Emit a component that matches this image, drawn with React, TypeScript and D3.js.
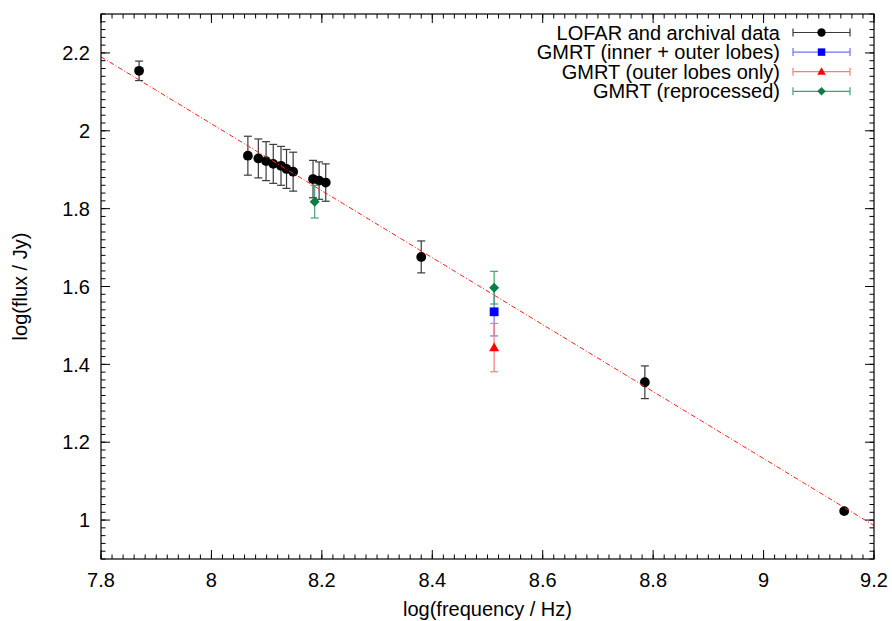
import React from "react";
import * as d3 from "d3";

const lofarX = [7.869, 8.066, 8.085, 8.099, 8.112, 8.126, 8.136, 8.148, 8.184, 8.195, 8.207, 8.38, 8.785, 9.146];
const lofarY = [2.154, 1.936, 1.929, 1.922, 1.915, 1.91, 1.902, 1.895, 1.876, 1.872, 1.867, 1.676, 1.354, 1.023];
const lofarErr = [0.025, 0.05, 0.05, 0.05, 0.05, 0.05, 0.05, 0.05, 0.048, 0.048, 0.048, 0.041, 0.042, 0.005];

const gmrtAllX = [8.512];
const gmrtAllY = [1.535];
const gmrtAllErr = [0.062];

const gmrtOuterX = [8.512];
const gmrtOuterY = [1.443];
const gmrtOuterErr = [0.062];

const gmrtReprocX = [8.187, 8.512];
const gmrtReprocY = [1.818, 1.597];
const gmrtReprocErr = [0.042, 0.042];

const fitIntercept = 2.19; // value at x = 7.8
const fitSlope = -0.86;

const legendLabels = [
  "LOFAR and archival data",
  "GMRT (inner + outer lobes)",
  "GMRT (outer lobes only)",
  "GMRT (reprocessed)",
];

const xDomain = [7.8, 9.2];
const yDomain = [0.9, 2.3];

const W = 892;
const H = 621;
const M = { left: 101, right: 874, top: 14, bottom: 559 };
const FONT = "'Liberation Sans', Arial, Helvetica, sans-serif";

type Style = { marker: string; fill: string; bar: string };
const styles: Style[] = [
  { marker: "circle", fill: "#000000", bar: "#3a3a3a" },
  { marker: "square", fill: "#0000ff", bar: "#7070ff" },
  { marker: "triangle", fill: "#ff0000", bar: "#ff7a7a" },
  { marker: "diamond", fill: "#0b7d45", bar: "#3fa472" },
];

function Marker({ kind, cx, cy, fill, s = 1 }: { kind: string; cx: number; cy: number; fill: string; s?: number }) {
  if (kind === "circle") return <circle cx={cx} cy={cy} r={4.9 * s} fill={fill} />;
  if (kind === "square")
    return <rect x={cx - 4.4 * s} y={cy - 4.4 * s} width={8.8 * s} height={8.8 * s} fill={fill} />;
  if (kind === "triangle")
    return (
      <path
        d={`M${cx},${cy - 5.2 * s}L${cx + 5 * s},${cy + 3.6 * s}L${cx - 5 * s},${cy + 3.6 * s}Z`}
        fill={fill}
      />
    );
  return (
    <path
      d={`M${cx},${cy - 5 * s}L${cx + 5 * s},${cy}L${cx},${cy + 5 * s}L${cx - 5 * s},${cy}Z`}
      fill={fill}
    />
  );
}

export default function App() {
  const x = d3.scaleLinear().domain(xDomain).range([M.left, M.right]);
  const y = d3.scaleLinear().domain(yDomain).range([M.bottom, M.top]);

  const series = [
    { xs: lofarX, ys: lofarY, es: lofarErr },
    { xs: gmrtAllX, ys: gmrtAllY, es: gmrtAllErr },
    { xs: gmrtOuterX, ys: gmrtOuterY, es: gmrtOuterErr },
    { xs: gmrtReprocX, ys: gmrtReprocY, es: gmrtReprocErr },
  ];

  const xMajor = d3.range(7.8, 9.2001, 0.2);
  const xMinor = d3.range(7.8, 9.2001, 0.02);
  const yMajor = d3.range(1.0, 2.2001, 0.2);
  const yMinor = d3.range(0.9, 2.3001, 0.02);
  const fmt = (v: number) => String(+v.toFixed(2));

  const fitLine = d3
    .line<number>()
    .x((v) => x(v))
    .y((v) => y(fitIntercept + fitSlope * (v - 7.8)));

  const capW = 4;

  return (
    <svg
      width={W}
      height={H}
      style={{ position: "absolute", left: 0, top: 0, background: "#fff" }}
      fontFamily={FONT}
    >
      <rect width={W} height={H} fill="#fff" />
      {/* ticks */}
      <g stroke="#000" strokeWidth={1}>
        {xMinor.map((v, i) => (
          <g key={"xm" + i}>
            <line x1={x(v)} x2={x(v)} y1={M.bottom} y2={M.bottom - 4.5} />
            <line x1={x(v)} x2={x(v)} y1={M.top} y2={M.top + 4.5} />
          </g>
        ))}
        {xMajor.map((v, i) => (
          <g key={"xM" + i}>
            <line x1={x(v)} x2={x(v)} y1={M.bottom} y2={M.bottom - 9} />
            <line x1={x(v)} x2={x(v)} y1={M.top} y2={M.top + 9} />
          </g>
        ))}
        {yMinor.map((v, i) => (
          <g key={"ym" + i}>
            <line x1={M.left} x2={M.left + 4.5} y1={y(v)} y2={y(v)} />
            <line x1={M.right} x2={M.right - 4.5} y1={y(v)} y2={y(v)} />
          </g>
        ))}
        {yMajor.map((v, i) => (
          <g key={"yM" + i}>
            <line x1={M.left} x2={M.left + 9} y1={y(v)} y2={y(v)} />
            <line x1={M.right} x2={M.right - 9} y1={y(v)} y2={y(v)} />
          </g>
        ))}
      </g>
      {/* tick labels */}
      <g fontSize={20} fill="#000">
        {xMajor.map((v, i) => (
          <text key={"xl" + i} x={x(v)} y={587} textAnchor="middle">
            {fmt(v)}
          </text>
        ))}
        {yMajor.map((v, i) => (
          <text key={"yl" + i} x={90} y={y(v)} dy="0.36em" textAnchor="end">
            {fmt(v)}
          </text>
        ))}
      </g>
      <text x={(M.left + M.right) / 2} y={616} fontSize={20} textAnchor="middle">
        log(frequency / Hz)
      </text>
      <text
        transform={`translate(27,${(M.top + M.bottom) / 2}) rotate(-90)`}
        fontSize={20}
        textAnchor="middle"
      >
        log(flux / Jy)
      </text>

      {/* data */}
      {series.map((s, si) => (
        <g key={"s" + si}>
          {s.xs.map((xv, i) => {
            const cx = x(xv);
            const y1 = y(s.ys[i] + s.es[i]);
            const y2 = y(s.ys[i] - s.es[i]);
            return (
              <g key={i} stroke={styles[si].bar} strokeWidth={1.2}>
                <line x1={cx} x2={cx} y1={y1} y2={y2} />
                <line x1={cx - capW} x2={cx + capW} y1={y1} y2={y1} />
                <line x1={cx - capW} x2={cx + capW} y1={y2} y2={y2} />
              </g>
            );
          })}
          {s.xs.map((xv, i) => (
            <Marker key={"m" + i} kind={styles[si].marker} cx={x(xv)} cy={y(s.ys[i])} fill={styles[si].fill} />
          ))}
        </g>
      ))}

      {/* fit line */}
      <path
        d={fitLine(xDomain) || ""}
        fill="none"
        stroke="#ff2020"
        strokeWidth={1}
        strokeDasharray="5,2,1,2"
      />

      {/* legend */}
      {legendLabels.map((lab, i) => {
        const ly = 32.5 + i * 19.6;
        const st = styles[i];
        return (
          <g key={"lg" + i}>
            <text x={780} y={ly} dy="0.35em" fontSize={20} textAnchor="end">
              {lab}
            </text>
            <g stroke={st.bar} strokeWidth={1.2}>
              <line x1={793} x2={850} y1={ly} y2={ly} />
              <line x1={793} x2={793} y1={ly - 4} y2={ly + 4} />
              <line x1={850} x2={850} y1={ly - 4} y2={ly + 4} />
            </g>
            <Marker kind={st.marker} cx={821.5} cy={ly} fill={st.fill} s={0.85} />
          </g>
        );
      })}

      {/* frame */}
      <rect
        x={M.left}
        y={M.top}
        width={M.right - M.left}
        height={M.bottom - M.top}
        fill="none"
        stroke="#000"
        strokeWidth={1.2}
      />
    </svg>
  );
}
